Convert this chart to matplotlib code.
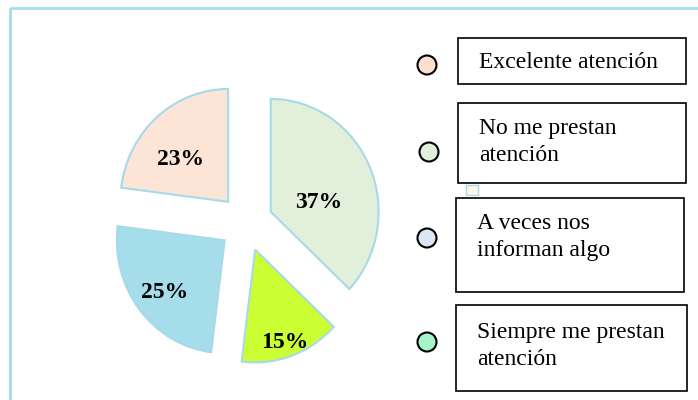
import numpy as np
import matplotlib.pyplot as plt
from matplotlib.patches import Rectangle, Circle

categorias = ["Excelente atención", "No me prestan\natención",
              "A veces nos\ninforman algo", "Siempre me prestan\natención"]
porcentajes = [23, 37, 25, 15]
colores_pie = ["#FCE4D6", "#E2EFDA", "#A6DDEB", "#CCFF33"]
colores_leyenda = ["#FBE0D0", "#E2EFDA", "#DCE6F4", "#A6F5C9"]
orden = [0, 2, 3, 1]  # counterclockwise from the top
dist_etiqueta = [0.84, 0.70, 0.96, 1.10]
giro_etiqueta = [4.4, -6.4, 0.5, -0.6]  # degrees off the wedge middle

plt.rcParams['font.family'] = ['Liberation Serif', 'DejaVu Serif']

fig = plt.figure(figsize=(6.98, 4.0), dpi=100)

# overlay in pixel coords for frame and legend boxes
ov = fig.add_axes([0, 0, 1, 1])
ov.set_xlim(0, 698)
ov.set_ylim(400, 0)
ov.axis('off')
ov.add_patch(Rectangle((10, 8), 700, 400, fill=False, ec="#A3DCEB", lw=2))

# legend
cajas = [(458, 38, 228, 46), (458, 103, 228, 80), (456, 198, 228, 94), (456, 305, 231, 86)]
texto_xy = [(479, 63), (479, 142), (477, 237), (477, 346)]
circ_xy = [(427, 65), (429, 152), (427, 238), (427, 342)]
for i, cat in enumerate(categorias):
    x, y, w, h = cajas[i]
    ov.add_patch(Rectangle((x, y), w, h, fill=False, ec="black", lw=1.2))
    ov.text(*texto_xy[i], cat, ha='left', va='center', fontsize=17, linespacing=1.38)
    ov.add_patch(Circle(circ_xy[i], 9.5, fc=colores_leyenda[i], ec="black", lw=1.5))
ov.add_patch(Rectangle((466, 185), 12, 10, fc="#FFF8E6", ec="#A8DCEB", lw=1))

# pie
ax = fig.add_axes([95/698, 19/400, 302/698, 316/400])
vals = [porcentajes[i] for i in orden]
cols = [colores_pie[i] for i in orden]
wedges, _ = ax.pie(vals, colors=cols, startangle=90, explode=[0.25]*4,
                   wedgeprops=dict(edgecolor="#A6DAEA", linewidth=1.5))
ax.set_aspect('auto')
ax.set_xlim(-1.4, 1.4)
ax.set_ylim(-1.4, 1.4)
for w, i in zip(wedges, orden):
    ang = np.deg2rad((w.theta1 + w.theta2) / 2 + giro_etiqueta[i])
    d = dist_etiqueta[i]
    ax.text(d*np.cos(ang), d*np.sin(ang), f"{porcentajes[i]}%", ha='center',
            va='center_baseline', fontsize=17, fontweight='bold')

fig.savefig("out.png", dpi=100)
